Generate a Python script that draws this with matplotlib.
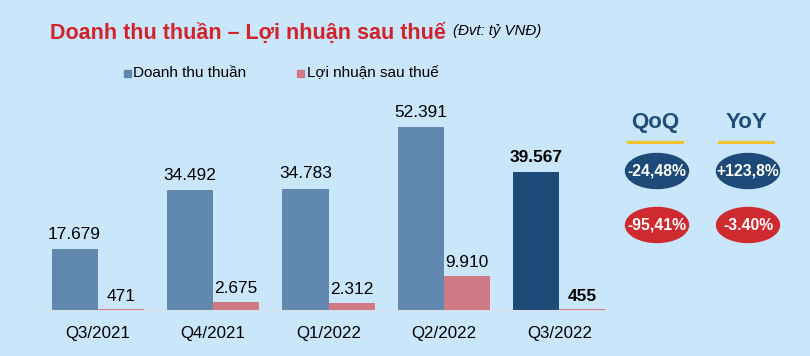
import matplotlib.pyplot as plt
from matplotlib.patches import Ellipse
import numpy as np

plt.rcParams['font.family'] = ['Liberation Sans', 'DejaVu Sans']

quarters = ["Q3/2021", "Q4/2021", "Q1/2022", "Q2/2022", "Q3/2022"]
doanh_thu = [17679, 34492, 34783, 52391, 39567]
loi_nhuan = [471, 2675, 2312, 9910, 455]
qoq = ["-24,48%", "-95,41%"]
yoy = ["+123,8%", "-3.40%"]

bg = "#c9e6fb"
blue = "#6189b0"
dark = "#1d4a78"
pink = "#cf7a85"
red_t = "#d2232a"

def fmt(v):
    return f"{v:,}".replace(",", ".")

fig = plt.figure(figsize=(8.1, 3.56), dpi=100, facecolor=bg)
ax = fig.add_axes([40/810, 45/356, 577/810, 211/356])
ax.set_facecolor(bg)

x = np.arange(len(quarters))
w = 0.4
cols = [blue] * 4 + [dark]
ax.bar(x - w/2, doanh_thu, w, color=cols)
ax.bar(x + w/2, loi_nhuan, w, color=pink)
ax.set_xlim(-0.5, 4.5)
ax.set_ylim(0, 60000)

for i in range(len(quarters)):
    bold = "bold" if i == 4 else "normal"
    ax.text(x[i] - w/2, doanh_thu[i] + 2900, fmt(doanh_thu[i]), ha="center", va="baseline",
            fontsize=12.4, fontweight=bold)
    ax.text(x[i] + w/2, loi_nhuan[i] + 2500, fmt(loi_nhuan[i]), ha="center", va="baseline",
            fontsize=12.4, fontweight=bold)

ax.axhline(0, color="#d8dde2", lw=1.5, xmin=0.003, xmax=0.985)
ax.set_xticks(x, quarters, fontsize=12.2)
ax.tick_params(length=0, pad=11)
ax.set_yticks([])
for s in ax.spines.values():
    s.set_visible(False)

# title and legend
fig.text(50/810, 1 - 33/356, "Doanh thu thuần – Lợi nhuận sau thuế", color=red_t,
         fontsize=15.5, fontweight="bold", va="center")
fig.text(453/810, 1 - 31/356, "(Đvt: tỷ VNĐ)", fontsize=10.8, style="italic", va="center")

fig.patches.append(plt.Rectangle((124/810, 1 - 77/356), 7/810, 7/356, color=blue,
                                 transform=fig.transFigure))
fig.text(133/810, 1 - 73/356, "Doanh thu thuần", fontsize=11, va="center")
fig.patches.append(plt.Rectangle((297/810, 1 - 77/356), 7/810, 7/356, color=pink,
                                 transform=fig.transFigure))
fig.text(307/810, 1 - 73/356, "Lợi nhuận sau thuế", fontsize=11, va="center")

# right panel
for cx, head, vals in [(655, "QoQ", qoq), (746, "YoY", yoy)]:
    fig.text(cx/810, 1 - 122/356, head, color="#1f4e79", fontsize=16, fontweight="bold",
             ha="center", va="center")
    fig.add_artist(plt.Line2D([(cx - 27)/810, (cx + 27)/810], [1 - 142/356] * 2,
                              color="#f2c12e", lw=2.2, transform=fig.transFigure))
    for cy, c, v in [(171, dark, vals[0]), (225, "#cf2a30", vals[1])]:
        fig.patches.append(Ellipse(((cx + 2)/810, 1 - cy/356), 63/810, 35/356, color=c,
                                   transform=fig.transFigure))
        fig.text((cx + 2)/810, 1 - cy/356, v, color="white", fontsize=11.3, fontweight="bold",
                 ha="center", va="center")

fig.savefig("out.png", dpi=100, facecolor=bg)
